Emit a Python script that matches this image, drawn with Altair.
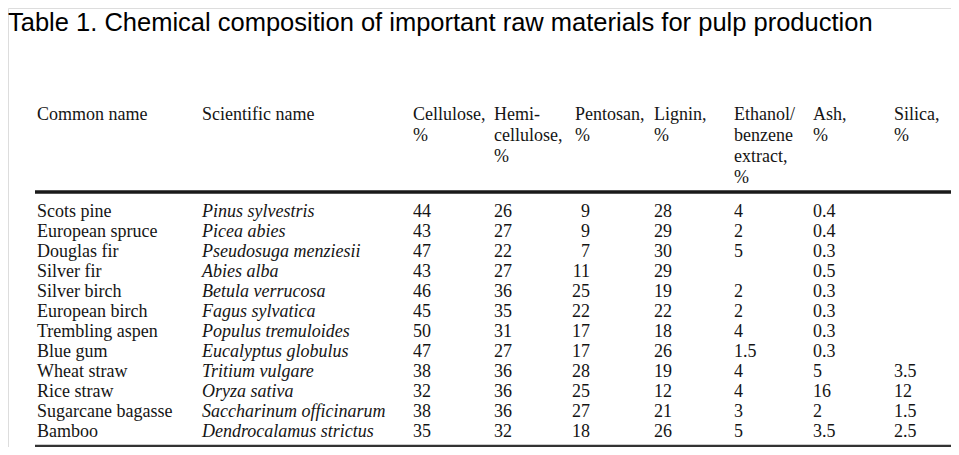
import altair as alt
import pandas as pd

# ---------------- data ----------------
title_text = "Table 1. Chemical composition of important raw materials for pulp production"

common_names = ["Scots pine", "European spruce", "Douglas fir", "Silver fir", "Silver birch",
                "European birch", "Trembling aspen", "Blue gum", "Wheat straw", "Rice straw",
                "Sugarcane bagasse", "Bamboo"]
scientific_names = ["Pinus sylvestris", "Picea abies", "Pseudosuga menziesii", "Abies alba",
                    "Betula verrucosa", "Fagus sylvatica", "Populus tremuloides",
                    "Eucalyptus globulus", "Tritium vulgare", "Oryza sativa",
                    "Saccharinum officinarum", "Dendrocalamus strictus"]
cellulose = ["44", "43", "47", "43", "46", "45", "50", "47", "38", "32", "38", "35"]
hemicellulose = ["26", "27", "22", "27", "36", "35", "31", "27", "36", "36", "36", "32"]
pentosan = ["9", "9", "7", "11", "25", "22", "17", "17", "28", "25", "27", "18"]
lignin = ["28", "29", "30", "29", "19", "22", "18", "26", "19", "12", "21", "26"]
ethanol_benzene = ["4", "2", "5", "", "2", "2", "4", "1.5", "4", "4", "3", "5"]
ash = ["0.4", "0.4", "0.3", "0.5", "0.3", "0.3", "0.3", "0.3", "5", "16", "2", "3.5"]
silica = ["", "", "", "", "", "", "", "", "3.5", "12", "1.5", "2.5"]

columns = ["Common name", "Scientific name", "Cellulose", "Hemicellulose", "Pentosan",
           "Lignin", "Ethanol", "Ash", "Silica"]
header_lines = [
    ["Common name"],
    ["Scientific name"],
    ["Cellulose,", "%"],
    ["Hemi-", "cellulose,", "%"],
    ["Pentosan,", "%"],
    ["Lignin,", "%"],
    ["Ethanol/", "benzene", "extract,", "%"],
    ["Ash,", "%"],
    ["Silica,", "%"],
]

# ---------------- layout (style) ----------------
COL_X = {"Common name": 29, "Scientific name": 194, "Cellulose": 405, "Hemicellulose": 486,
         "Pentosan": 567, "Lignin": 646, "Ethanol": 726, "Ash": 805, "Silica": 886,
         "Pentosan values": 582}
W, H = 943, 439
xscale = alt.Scale(domain=[0, W], range=[0, W], nice=False, zero=False)
header_y = alt.Scale(domain=[0, 3], range=[112, 175])
body_y = alt.Scale(domain=[0, 11], range=[209, 429])
SERIF = "Liberation Serif"
FS = 18
INK = "#151515"

# ---------------- tables ----------------
hdr = pd.DataFrame([
    {"col": c, "line": i, "text": t}
    for c, lines in zip(columns, header_lines) for i, t in enumerate(lines)
])
hdr["xpos"] = hdr["col"].map(COL_X)

value_cols = {"Cellulose": cellulose, "Hemicellulose": hemicellulose, "Lignin": lignin,
              "Ethanol": ethanol_benzene, "Ash": ash, "Silica": silica}
plain_rows = []
for r, name in enumerate(common_names):
    plain_rows.append({"col": "Common name", "row": r, "text": name})
for c, vals in value_cols.items():
    for r, v in enumerate(vals):
        if v:
            plain_rows.append({"col": c, "row": r, "text": v})
plain = pd.DataFrame(plain_rows)
plain["xpos"] = plain["col"].map(COL_X)
italic = pd.DataFrame({"col": "Scientific name", "row": list(range(len(scientific_names))),
                       "text": scientific_names})
italic["xpos"] = italic["col"].map(COL_X)
pent = pd.DataFrame({"col": "Pentosan values", "row": list(range(len(pentosan))),
                     "text": pentosan})
pent["xpos"] = pent["col"].map(COL_X)

# ---------------- marks ----------------
title = alt.Chart(pd.DataFrame({"t": [title_text]})).mark_text(
    font="Liberation Sans", fontSize=25.5, align="left", baseline="alphabetic", color="#000"
).encode(x=alt.value(0), y=alt.value(23), text="t:N")

top_rule = alt.Chart(pd.DataFrame({"a": [0]})).mark_rule(
    color="#1a1a1a", strokeWidth=3.5
).encode(x=alt.value(27), x2=alt.value(945), y=alt.value(184))
bottom_rule = alt.Chart(pd.DataFrame({"a": [0]})).mark_rule(
    color="#333", strokeWidth=2.5
).encode(x=alt.value(27), x2=alt.value(945), y=alt.value(438))


def text_layer(df, yfield, yscale, **kw):
    return alt.Chart(df).mark_text(
        font=SERIF, fontSize=FS, baseline="alphabetic", color=INK, **kw
    ).encode(
        x=alt.X("xpos:Q", scale=xscale, axis=None),
        y=alt.Y(f"{yfield}:Q", scale=yscale, axis=None),
        text="text:N",
    )


header = text_layer(hdr, "line", header_y, align="left")
body_plain = text_layer(plain, "row", body_y, align="left")
body_italic = text_layer(italic, "row", body_y, align="left", fontStyle="italic")
body_pent = text_layer(pent, "row", body_y, align="right")
body = alt.layer(body_plain, body_italic, body_pent)

chart = alt.layer(title, top_rule, bottom_rule, header, body).resolve_scale(
    y="independent"
).properties(
    width=W, height=H, autosize=alt.AutoSizeParams(type="none"), padding=0
).configure_view(stroke=None).configure(background="white")

chart.save("out.html", embed_options={"renderer": "svg", "actions": False})
